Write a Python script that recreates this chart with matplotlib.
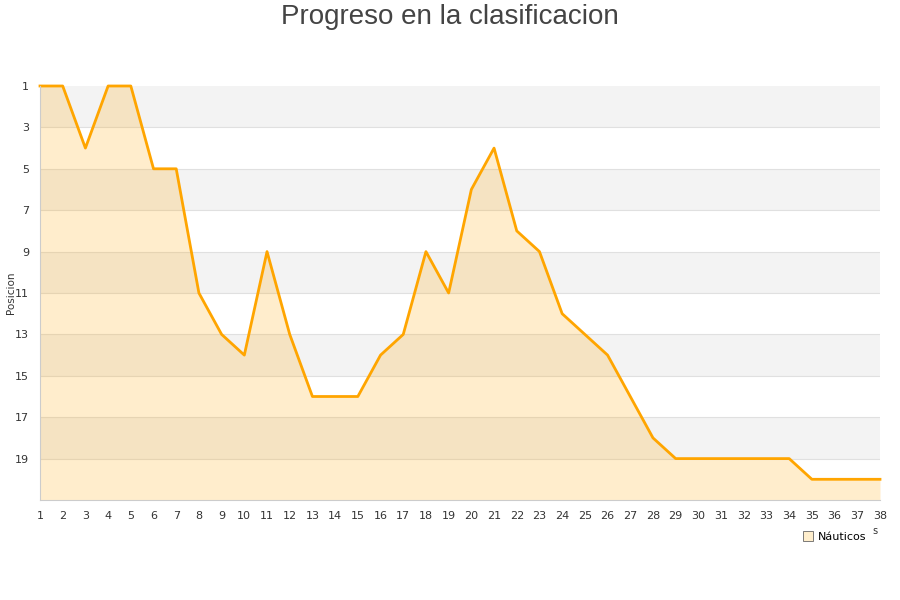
import matplotlib.pyplot as plt
from matplotlib.lines import Line2D

# jornadas y posiciones
jornadas = list(range(1, 39))
posiciones = [1, 1, 4, 1, 1, 5, 5, 11, 13, 14, 9, 13, 16, 16, 16, 14, 13, 9, 11, 6,
              4, 8, 9, 12, 13, 14, 16, 18, 19, 19, 19, 19, 19, 19, 20, 20, 20, 20]
ticks_y = list(range(1, 20, 2))

fig = plt.figure(figsize=(9, 6), dpi=100)
ax = fig.add_axes([40 / 900, 100 / 600, 840 / 900, 414 / 600])

ax.set_xlim(1, 38)
ax.set_ylim(21, 1)

# bandas alternas
for i, y0 in enumerate(range(1, 21, 2)):
    if i % 2 == 0:
        ax.axhspan(y0, y0 + 2, color='#f3f3f3', zorder=0, lw=0)
for y in range(3, 21, 2):
    ax.axhline(y, color='#e0e0e0', lw=0.8, zorder=0.5)

ax.fill_between(jornadas, posiciones, 21, color='#ffa500', alpha=0.2, lw=0, zorder=1)
ax.plot(jornadas, posiciones, color='#ffa500', lw=2, zorder=2, clip_on=False)

ax.set_xticks(jornadas)
ax.set_yticks(ticks_y)
ax.tick_params(axis='both', length=0, labelsize=8, colors='#333333', pad=8)
for s in ['top', 'right']:
    ax.spines[s].set_visible(False)
for s in ['left', 'bottom']:
    ax.spines[s].set_color('#cccccc')

ax.set_ylabel('Posicion', fontsize=7.5, color='#333333')
ax.yaxis.set_label_coords(-24 / 840, 0.5)

fig.text(0.5, 1 - 17 / 600, 'Progreso en la clasificacion', ha='center', va='center',
         fontsize=20, color='#444444', family='Liberation Sans')

handle = Line2D([], [], marker='s', ls='none', markersize=7,
                markerfacecolor='#ffeecc', markeredgecolor='#666666', markeredgewidth=0.6)
fig.legend([handle], ['Náuticos'], loc='center left', bbox_to_anchor=(792 / 900, 1 - 537 / 600),
           frameon=False, fontsize=8, handletextpad=0.4, handlelength=1)
fig.text(875 / 900, 1 - 531 / 600, 's', fontsize=7, color='#333333', ha='center', va='center')

fig.savefig('out.png', dpi=100)
